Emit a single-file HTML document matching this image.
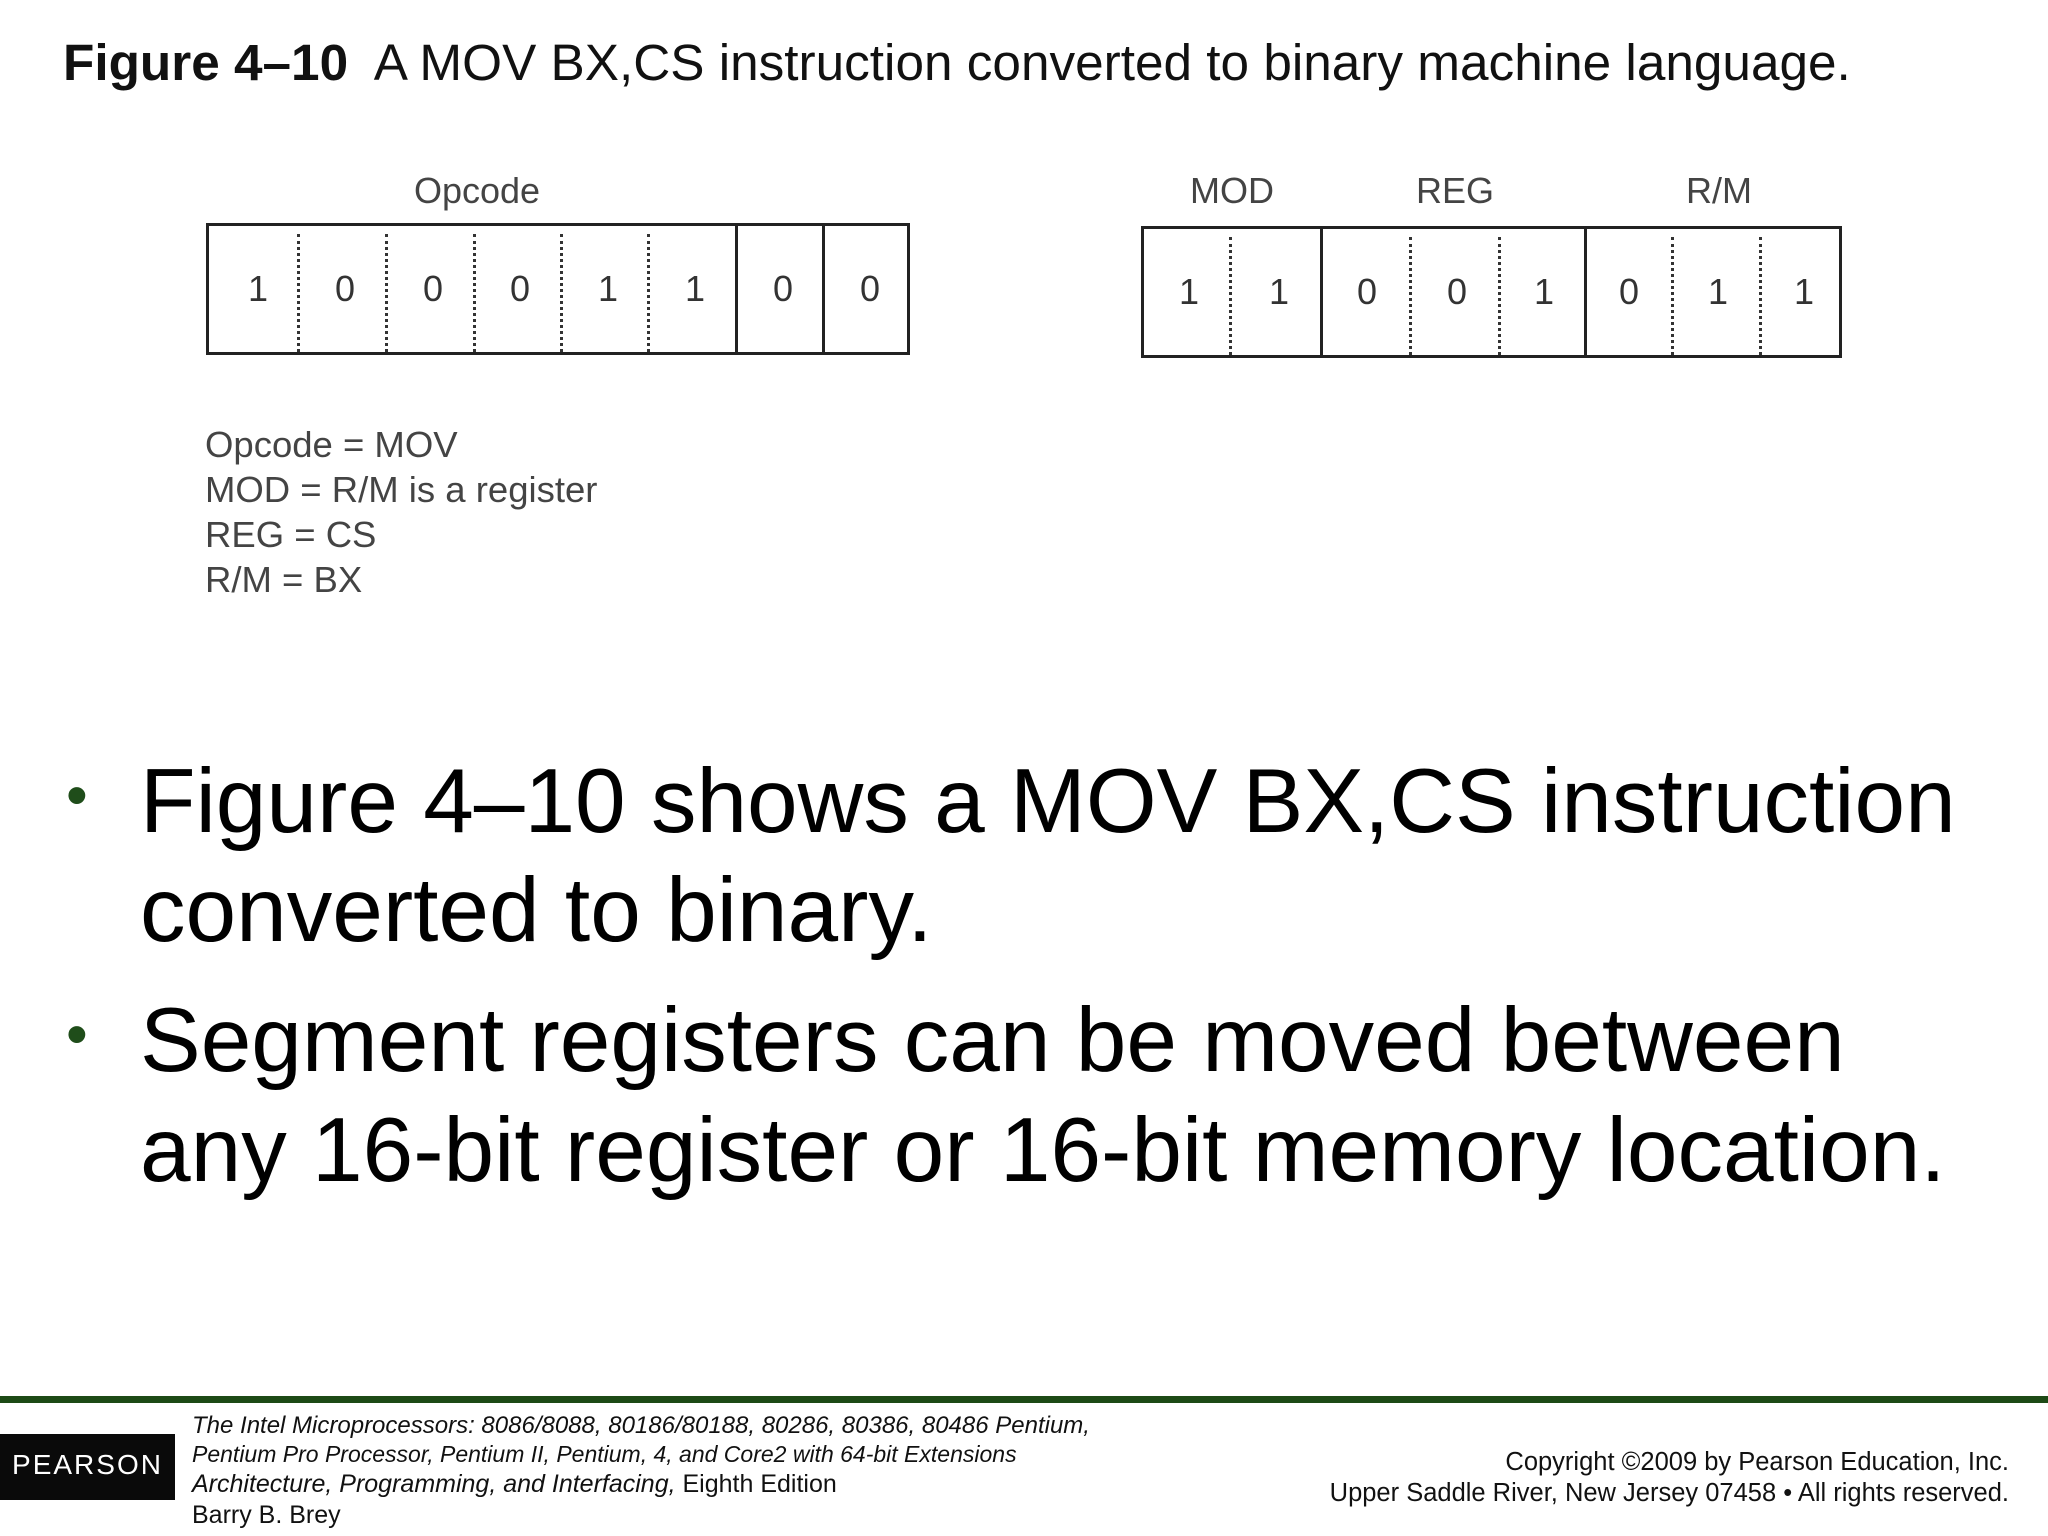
<!DOCTYPE html>
<html><head><meta charset="utf-8"><style>
body{margin:0;width:2048px;height:1536px;background:#fff;position:relative;overflow:hidden;font-family:"Liberation Sans",sans-serif;}
.a{position:absolute;white-space:nowrap;}
.box{position:absolute;border:3px solid #222;box-sizing:border-box;}
.d{position:absolute;top:8px;bottom:0;border-left:3px dotted #333;}
.s{position:absolute;top:0;bottom:0;border-left:3px solid #222;}
.n{position:absolute;top:0;bottom:0;display:flex;align-items:center;justify-content:center;font-size:36px;color:#333;transform:translateX(-50%);}
.lbl{position:absolute;font-size:36px;color:#444;transform:translateX(-50%);}
.leg{position:absolute;left:205px;font-size:36.5px;color:#444;white-space:nowrap;}
.bul{position:absolute;left:140px;font-size:91px;color:#000;white-space:nowrap;}
.dot{position:absolute;left:66px;font-size:62px;color:#1f4d1a;}
.ft{position:absolute;font-size:24px;color:#111;white-space:nowrap;}
</style></head><body>
<div class="a" style="left:63px;top:33px;font-size:51.3px;color:#111"><b>Figure 4–10</b>&nbsp; A MOV BX,CS instruction converted to binary machine language.</div>

<div class="lbl" style="left:477px;top:170px">Opcode</div>
<div class="box" style="left:206px;top:223px;width:704px;height:132px">
<div class="d" style="left:88px"></div><div class="d" style="left:176px"></div><div class="d" style="left:264px"></div><div class="d" style="left:351px"></div><div class="d" style="left:438px"></div>
<div class="s" style="left:526px"></div><div class="s" style="left:613px"></div>
<div class="n" style="left:49px">1</div><div class="n" style="left:136px">0</div><div class="n" style="left:224px">0</div><div class="n" style="left:311px">0</div><div class="n" style="left:399px">1</div><div class="n" style="left:486px">1</div><div class="n" style="left:574px">0</div><div class="n" style="left:661px">0</div>
</div>

<div class="lbl" style="left:1232px;top:170px">MOD</div>
<div class="lbl" style="left:1455px;top:170px">REG</div>
<div class="lbl" style="left:1719px;top:170px">R/M</div>
<div class="box" style="left:1141px;top:226px;width:701px;height:132px">
<div class="d" style="left:85px"></div><div class="s" style="left:176px"></div><div class="d" style="left:265px"></div><div class="d" style="left:354px"></div><div class="s" style="left:440px"></div><div class="d" style="left:527px"></div><div class="d" style="left:615px"></div>
<div class="n" style="left:45px">1</div><div class="n" style="left:135px">1</div><div class="n" style="left:223px">0</div><div class="n" style="left:313px">0</div><div class="n" style="left:400px">1</div><div class="n" style="left:485px">0</div><div class="n" style="left:574px">1</div><div class="n" style="left:660px">1</div>
</div>

<div class="leg" style="top:424px">Opcode = MOV</div>
<div class="leg" style="top:469px">MOD = R/M is a register</div>
<div class="leg" style="top:514px">REG = CS</div>
<div class="leg" style="top:559px">R/M = BX</div>

<div class="dot" style="top:760px">•</div>
<div class="bul" style="top:750px">Figure 4–10 shows a MOV BX,CS instruction</div>
<div class="bul" style="top:859px">converted to binary.</div>
<div class="dot" style="top:999px">•</div>
<div class="bul" style="top:989px">Segment registers can be moved between</div>
<div class="bul" style="top:1099px">any 16-bit register or 16-bit memory location.</div>

<div style="position:absolute;left:0;top:1396px;width:2048px;height:7px;background:#1d4a16"></div>
<div style="position:absolute;left:0;top:1434px;width:175px;height:66px;background:#0a0a0a;color:#fff;font-size:28px;letter-spacing:2px;text-align:center;line-height:62px">PEARSON</div>
<div class="ft" style="left:192px;top:1412px"><i>The Intel Microprocessors: 8086/8088, 80186/80188, 80286, 80386, 80486 Pentium,</i></div>
<div class="ft" style="left:192px;top:1441px;font-size:23px"><i>Pentium Pro Processor, Pentium II, Pentium, 4, and Core2 with 64-bit Extensions</i></div>
<div class="ft" style="left:192px;top:1470px;font-size:25px"><i>Architecture, Programming, and Interfacing,</i> Eighth Edition</div>
<div class="ft" style="left:192px;top:1501px;font-size:25px">Barry B. Brey</div>
<div class="ft" style="right:39px;top:1448px;font-size:25.5px">Copyright ©2009 by Pearson Education, Inc.</div>
<div class="ft" style="right:39px;top:1479px;font-size:25.5px">Upper Saddle River, New Jersey 07458 • All rights reserved.</div>
</body></html>
